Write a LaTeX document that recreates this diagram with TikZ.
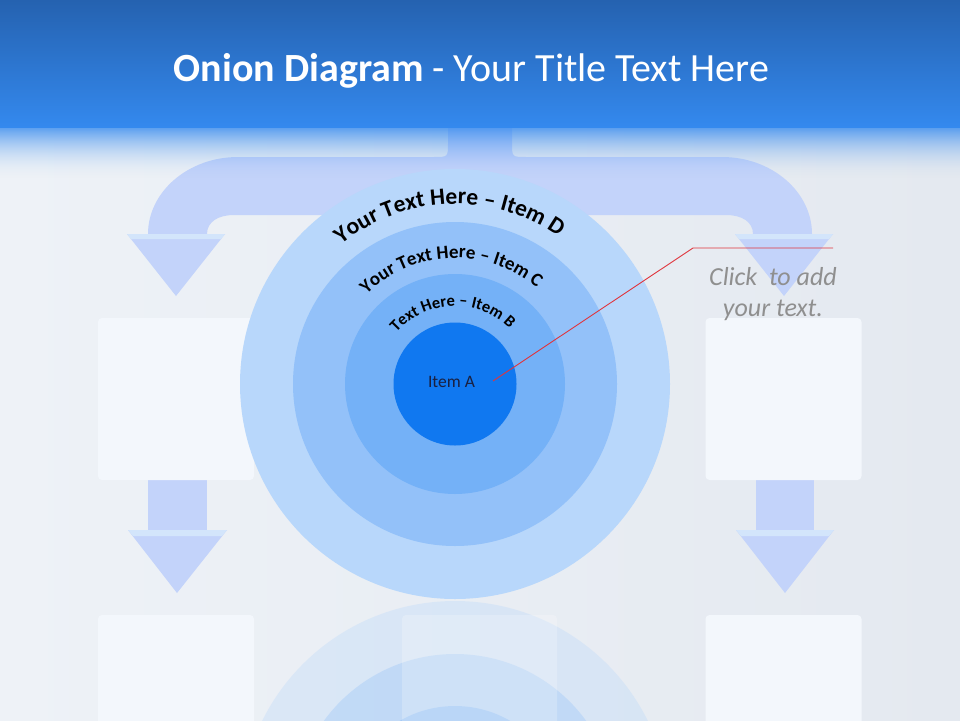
\documentclass[tikz,border=0pt]{standalone}
\usepackage{fontspec}
\setmainfont{Carlito}
\usetikzlibrary{decorations.text,calc}
\definecolor{bgl}{HTML}{EEF2F7}
\definecolor{bgm}{HTML}{E9EEF4}
\definecolor{bgr}{HTML}{E4E9F0}
\definecolor{hdrtop}{HTML}{2562B0}
\definecolor{hdrbot}{HTML}{3489EE}
\definecolor{arrowc}{HTML}{C3D3FA}
\definecolor{stripc}{HTML}{D3E5FB}
\definecolor{boxc}{HTML}{F3F7FC}
\definecolor{ringD}{HTML}{B8D7FB}
\definecolor{ringC}{HTML}{93C1F9}
\definecolor{ringB}{HTML}{74B1F7}
\definecolor{ringA}{HTML}{1078F0}
\definecolor{leadc}{HTML}{E0343C}
\definecolor{clickc}{HTML}{8F8F8F}
\definecolor{itemtxt}{HTML}{1A2040}
\tikzset{
  ring/.style={circle, inner sep=0pt, outer sep=0pt},
  reflring/.style={fill opacity=0.33},
  panel/.style={rectangle, fill=boxc, rounded corners=4pt, minimum width=156pt, minimum height=162pt, inner sep=0pt},
  arrowfill/.style={fill=arrowc},
  stripfill/.style={fill=stripc},
  curvetext/.style={decorate, decoration={text along path, text align=center, text={#1}}}
}
\begin{document}
\begin{tikzpicture}[x=1pt,y=-1pt]
\useasboundingbox (0,0) rectangle (960,720);
\clip (0,0) rectangle (960,720);
% background
\fill[left color=bgl, middle color=bgm, right color=bgr] (0,0) rectangle (960,720);
\coordinate (o) at (455,384);
\coordinate (ro) at (455,816);
% reflection
\fill[ringD, reflring] (ro) circle[radius=215];
\fill[ringC, reflring] (ro) circle[radius=162];
\fill[ringB, reflring] (ro) circle[radius=110];
\fill[white, fill opacity=0.22, rounded corners=4pt] (402,615) rectangle (557,780);
% top bent arrow
\fill[arrowfill] (448,100) -- (448,143) .. controls (448,157) .. (434,157) -- (238,157)
  .. controls (188,157) and (148,192) .. (148,234) -- (127,234) -- (176,296) -- (225,234) -- (207,234)
  .. controls (207,222) and (218,215) .. (234,215) -- (726,215)
  .. controls (742,215) and (753,222) .. (753,234) -- (735,234) -- (784,296) -- (833,234) -- (812,234)
  .. controls (812,192) and (772,157) .. (722,157) -- (526,157) .. controls (512,157) .. (512,143) -- (512,100) -- cycle;
\fill[stripfill] (127,234) -- (225,234) -- (221,239) -- (131,239) -- cycle;
\fill[stripfill] (735,234) -- (833,234) -- (829,239) -- (739,239) -- cycle;
% header
\fill[top color=hdrtop, bottom color=hdrbot] (0,0) rectangle (960,127);
\foreach \i in {0,...,52}{
  \pgfmathsetmacro\op{0.8*(1-\i/53)^2}
  \fill[hdrbot, fill opacity=\op] (0,127+\i) rectangle (960,128+\i);
}
\node[anchor=base, text=white, font=\fontsize{40}{48}\selectfont, inner sep=0pt] (title) at (471.5,81)
  {{\bfseries Onion Diagram} - Your Title Text Here};
% down arrows
\fill[arrowfill] (148,478) rectangle (207,531);
\fill[arrowfill] (128,530) -- (227,530) -- (177,593) -- cycle;
\fill[stripfill] (128,530) -- (227,530) -- (222,536) -- (133,536) -- cycle;
\fill[arrowfill] (756,478) rectangle (814,531);
\fill[arrowfill] (736,530) -- (834,530) -- (785,593) -- cycle;
\fill[stripfill] (736,530) -- (834,530) -- (829,536) -- (741,536) -- cycle;
% panels
\node[panel] (boxTL) at (176,399) {};
\node[panel] (boxTR) at (783.5,399) {};
\node[panel] (boxBL) at (176,696) {};
\node[panel] (boxBR) at (783.5,696) {};
% onion
\node[ring, fill=ringD, minimum size=430pt] (ringD) at (o) {};
\node[ring, fill=ringC, minimum size=324pt] (ringC) at (o) {};
\node[ring, fill=ringB, minimum size=220pt] (ringB) at (o) {};
\node[ring, fill=ringA, minimum size=123pt] (itemA) at (o) {};
\node[anchor=base, text=itemtxt, font=\fontsize{17.5}{21}\selectfont, inner sep=0pt] (itemAlabel) at (451.5,387) {Item A};
% curved texts
\path[curvetext={|\fontsize{23.5}{24}\selectfont\bfseries|Your Text Here – Item D}]
  ($(o)+(-155:180)$) arc[start angle=-155, end angle=-29, radius=180];
\path[curvetext={|\fontsize{19}{19}\selectfont\bfseries|Your Text Here – Item C}]
  ($(o)+(-155:126)$) arc[start angle=-155, end angle=-29, radius=126];
\path[curvetext={|\fontsize{16.5}{17}\selectfont\bfseries|Text Here – Item B}]
  ($(o)+(-158:78)$) arc[start angle=-158, end angle=-26, radius=78];
% leader line
\coordinate (lead1) at (493,381);
\coordinate (lead2) at (693,248);
\coordinate (lead3) at (833,248);
\draw[leadc, line width=0.9pt] (lead1) -- (lead2) -- (lead3);
\node[anchor=base, align=center, text=clickc, font=\itshape\fontsize{26}{31}\selectfont, inner sep=0pt] (click) at (773,316)
  {Click\ \ to add\\your text.};
\end{tikzpicture}
\end{document}
